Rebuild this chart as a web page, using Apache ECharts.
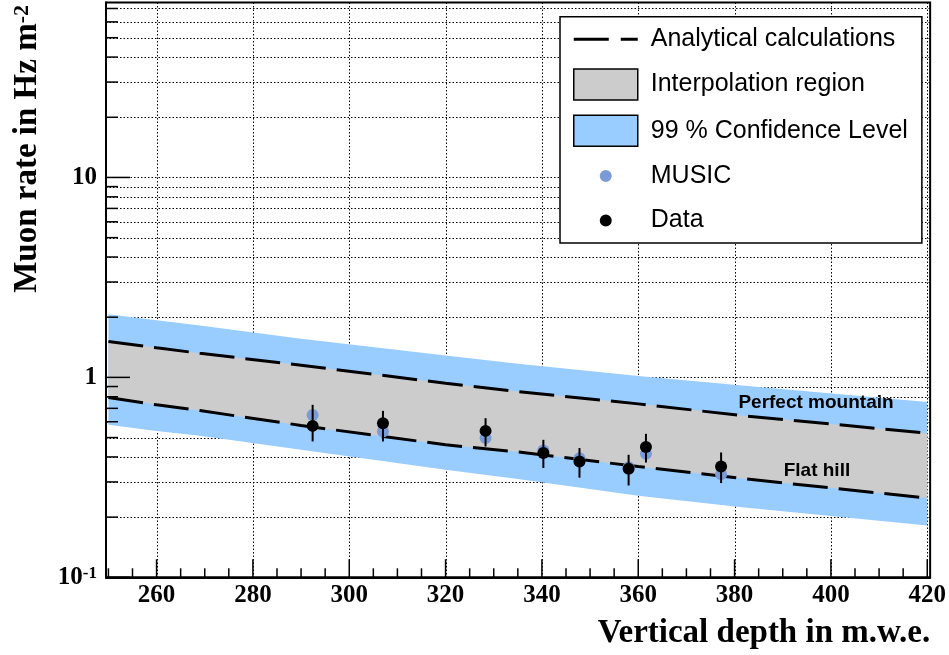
<!DOCTYPE html>
<html><head><meta charset="utf-8">
<script src="https://cdn.jsdelivr.net/npm/echarts@6/dist/echarts.min.js"></script>
<style>html,body{margin:0;padding:0;background:#fff}#c{width:949px;height:655px}</style>
</head><body><div id="c"></div>
<script>
// ---- data ----
const depthGrid       = [250, 260, 269, 290, 320, 335, 360, 381, 420];
const confUpper       = [2.07, 1.93, 1.815, 1.56, 1.285, 1.17, 1.017, 0.914, 0.752];
const perfectMountain = [1.51, 1.405, 1.32, 1.15, 0.935, 0.849, 0.737, 0.646, 0.526];
const flatHill        = [0.793, 0.729, 0.682, 0.575, 0.46, 0.424, 0.358, 0.313, 0.249];
const confLower       = [0.579, 0.54, 0.51, 0.434, 0.345, 0.31, 0.256, 0.225, 0.1815];

const dataDepth = [292.4, 307.0, 328.3, 340.3, 347.8, 358.0, 361.6, 377.2];
const dataRate  = [0.572, 0.590, 0.540, 0.418, 0.379, 0.349, 0.448, 0.358];
const dataLow   = [0.478, 0.478, 0.451, 0.352, 0.315, 0.288, 0.375, 0.296];
const dataHigh  = [0.729, 0.680, 0.625, 0.487, 0.443, 0.410, 0.522, 0.421];
const musicRate = [0.649, 0.536, 0.497, 0.431, 0.394, 0.355, 0.415, 0.328];

const xMajorTicks = [260, 280, 300, 320, 340, 360, 380, 400, 420];
const xMinorTicks = [250, 255, 265, 270, 275, 285, 290, 295, 305, 310, 315, 325, 330, 335,
                     345, 350, 355, 365, 370, 375, 385, 390, 395, 405, 410, 415];
const yMajorTicks = [0.1, 1, 10];
const yMinorTicks = [0.2, 0.3, 0.4, 0.5, 0.6, 0.7, 0.8, 0.9, 2, 3, 4, 5, 6, 7, 8, 9, 20, 30, 40, 50, 60, 70];

// ---- styling helpers ----
const SERIF = 'Liberation Serif';
const SANS = 'Liberation Sans';
const DASH_ICON = 'path://M0,0L0.01,0M0,14L35,14L35,17L0,17ZM47,14L64,14L64,17L47,17ZM64,31L63.99,31';
const DOT_ICON  = 'path://M0,0L0.01,0M26,15.5A6,6 0 1,0 38,15.5A6,6 0 1,0 26,15.5ZM64,31L63.99,31';

function vGrid(params, api) {
  const cs = params.coordSys;
  const x = Math.round(api.coord([api.value(0), 1])[0]) + 0.5;
  return {type: 'line', shape: {x1: x, y1: cs.y, x2: x, y2: cs.y + cs.height},
          style: {stroke: '#000', lineWidth: 1, lineDash: [1.5, 2]}};
}
function hGrid(params, api) {
  const cs = params.coordSys;
  const y = Math.round(api.coord([300, api.value(1)])[1]) + 0.5;
  return {type: 'line', shape: {x1: cs.x, y1: y, x2: cs.x + cs.width, y2: y},
          style: {stroke: '#000', lineWidth: 1, lineDash: [1.5, 2]}};
}
function xTick(len) {
  return function (params, api) {
    const cs = params.coordSys;
    const x = api.coord([api.value(0), 1])[0];
    const yb = cs.y + cs.height;
    return {type: 'line', shape: {x1: x, y1: yb, x2: x, y2: yb - len}, style: {stroke: '#000', lineWidth: 1.5}};
  };
}
function yTick(len) {
  return function (params, api) {
    const cs = params.coordSys;
    const y = api.coord([300, api.value(1)])[1];
    return {type: 'line', shape: {x1: cs.x, y1: y, x2: cs.x + len, y2: y}, style: {stroke: '#000', lineWidth: 1.5}};
  };
}
function band(lower, upper, color) {
  return function (params, api) {
    if (params.dataIndex !== 0) return null;
    const pts = [];
    for (let i = 0; i < depthGrid.length; i++) pts.push(api.coord([depthGrid[i], upper[i]]));
    for (let i = depthGrid.length - 1; i >= 0; i--) pts.push(api.coord([depthGrid[i], lower[i]]));
    return {type: 'polygon', shape: {points: pts}, style: {fill: color}};
  };
}

const chart = echarts.init(document.getElementById('c'), null, {renderer: 'canvas'});
const supY = {fontFamily: SERIF, fontWeight: 'bold', fontSize: 17, color: '#000', verticalAlign: 'top', lineHeight: 14};

chart.setOption({
  animation: false,
  backgroundColor: '#fff',
  grid: {left: 106, right: 18, top: 2.5, bottom: 77.7, show: true, borderColor: '#000', borderWidth: 2, containLabel: false},
  legend: {
    orient: 'vertical', left: 560, top: 16.7, padding: [7, 14, 7, 13], itemGap: 13.6,
    itemWidth: 64, itemHeight: 31, borderColor: '#000', borderWidth: 1.5, backgroundColor: '#fff',
    selectedMode: false, z: 20,
    textStyle: {fontFamily: SANS, fontSize: 25, color: '#000', padding: [0, 0, 0, 8]},
    data: [
      {name: 'Analytical calculations', icon: DASH_ICON, itemStyle: {color: '#000', borderWidth: 0, opacity: 1}},
      {name: 'Interpolation region', icon: 'rect', itemStyle: {color: '#cccccc', borderColor: '#000', borderWidth: 1.5}},
      {name: '99 % Confidence Level', icon: 'rect', itemStyle: {color: '#99ccff', borderColor: '#000', borderWidth: 1.5}},
      {name: 'MUSIC', icon: DOT_ICON, itemStyle: {color: '#7a9bd6', borderWidth: 0, opacity: 1}},
      {name: 'Data', icon: DOT_ICON, itemStyle: {color: '#000', borderWidth: 0, opacity: 1}}
    ]
  },
  xAxis: {
    type: 'value', min: 249.5, max: 420.6,
    axisLine: {show: true, onZero: false, lineStyle: {color: '#000', width: 2}},
    axisTick: {show: false}, splitLine: {show: false},
    axisLabel: {customValues: xMajorTicks, fontFamily: SERIF, fontWeight: 'bold', fontSize: 25, color: '#000', margin: 6},
    name: 'Vertical depth in m.w.e.', nameLocation: 'end', nameGap: 0,
    nameTextStyle: {fontFamily: SERIF, fontWeight: 'bold', fontSize: 33, color: '#000', align: 'right', verticalAlign: 'top', padding: [40, 0, 0, 0]}
  },
  yAxis: {
    type: 'log', logBase: 10, min: 0.1, max: 75,
    axisLine: {show: true, onZero: false, lineStyle: {color: '#000', width: 2}},
    axisTick: {show: false}, splitLine: {show: false}, minorTick: {show: false},
    axisLabel: {
      customValues: yMajorTicks, margin: 9, fontFamily: SERIF, fontWeight: 'bold', fontSize: 25, color: '#000',
      formatter: function (v) {
        const e = Math.round(Math.log10(v));
        if (e === 0) return '1';
        if (e === 1) return '10';
        return '10{sup|' + e + '}';
      },
      rich: {sup: supY}
    },
    name: 'Muon rate in Hz m{sup|-2}', nameLocation: 'end', nameRotate: 90, nameGap: -2.5,
    nameTextStyle: {
      fontFamily: SERIF, fontWeight: 'bold', fontSize: 33, color: '#000', align: 'right', verticalAlign: 'bottom',
      padding: [0, 0, 62, 0],
      rich: {sup: {fontFamily: SERIF, fontWeight: 'bold', fontSize: 22, color: '#000', verticalAlign: 'top', lineHeight: 16}}
    }
  },
  series: [
    {type: 'custom', name: 'vgrid', silent: true, z: 1, renderItem: vGrid, data: xMajorTicks.map(v => [v, 1])},
    {type: 'custom', name: 'hgrid', silent: true, z: 1, renderItem: hGrid, data: yMajorTicks.concat(yMinorTicks).map(v => [300, v])},
    {type: 'custom', name: '99 % Confidence Level', silent: true, z: 2, clip: true, itemStyle: {color: '#99ccff'},
     renderItem: band(confLower, confUpper, '#99ccff'), data: depthGrid.map((d, i) => [d, confLower[i], confUpper[i]]), encode: {x: 0, y: [1, 2]}},
    {type: 'custom', name: 'Interpolation region', silent: true, z: 3, clip: true, itemStyle: {color: '#cccccc'},
     renderItem: band(flatHill, perfectMountain, '#cccccc'), data: depthGrid.map((d, i) => [d, flatHill[i], perfectMountain[i]]), encode: {x: 0, y: [1, 2]}},
    {type: 'line', name: 'Analytical calculations', z: 4, symbol: 'none', silent: true, color: '#000',
     lineStyle: {color: '#000', width: 3, type: [35, 11]},
     data: depthGrid.map((d, i) => [d, perfectMountain[i]]),
     markPoint: {silent: true, symbol: 'circle', symbolSize: 1, itemStyle: {color: 'rgba(0,0,0,0)'},
       label: {show: true, position: 'inside', formatter: 'Perfect mountain', fontFamily: SANS, fontWeight: 'bold', fontSize: 19, color: '#000'},
       data: [{coord: [396.9, 0.75]}]}},
    {type: 'line', name: 'Analytical calculations', z: 4, symbol: 'none', silent: true, color: '#000',
     lineStyle: {color: '#000', width: 3, type: [35, 11]},
     data: depthGrid.map((d, i) => [d, flatHill[i]]),
     markPoint: {silent: true, symbol: 'circle', symbolSize: 1, itemStyle: {color: 'rgba(0,0,0,0)'},
       label: {show: true, position: 'inside', formatter: 'Flat hill', fontFamily: SANS, fontWeight: 'bold', fontSize: 19, color: '#000'},
       data: [{coord: [397.1, 0.341]}]}},
    {type: 'custom', name: 'xMajor', silent: true, z: 6, renderItem: xTick(18), data: xMajorTicks.map(v => [v, 1])},
    {type: 'custom', name: 'xMinor', silent: true, z: 6, renderItem: xTick(9), data: xMinorTicks.map(v => [v, 1])},
    {type: 'custom', name: 'yMajor', silent: true, z: 6, renderItem: yTick(24), data: yMajorTicks.map(v => [300, v])},
    {type: 'custom', name: 'yMinor', silent: true, z: 6, renderItem: yTick(12), data: yMinorTicks.map(v => [300, v])},
    {type: 'scatter', name: 'MUSIC', z: 7, symbolSize: 12, itemStyle: {color: '#7a9bd6', opacity: 1}, silent: true,
     data: dataDepth.map((d, i) => [d, musicRate[i]])},
    {type: 'custom', name: 'Data errors', silent: true, z: 8,
     renderItem: function (params, api) {
       const x = api.value(0);
       const lo = api.coord([x, api.value(1)]);
       const hi = api.coord([x, api.value(2)]);
       return {type: 'line', shape: {x1: lo[0], y1: lo[1], x2: hi[0], y2: hi[1]}, style: {stroke: '#000', lineWidth: 2}};
     },
     data: dataDepth.map((d, i) => [d, dataLow[i], dataHigh[i]]), encode: {x: 0, y: [1, 2]}},
    {type: 'scatter', name: 'Data', z: 9, symbolSize: 12, itemStyle: {color: '#000', opacity: 1}, silent: true,
     data: dataDepth.map((d, i) => [d, dataRate[i]])}
  ]
});
</script>
</body></html>
